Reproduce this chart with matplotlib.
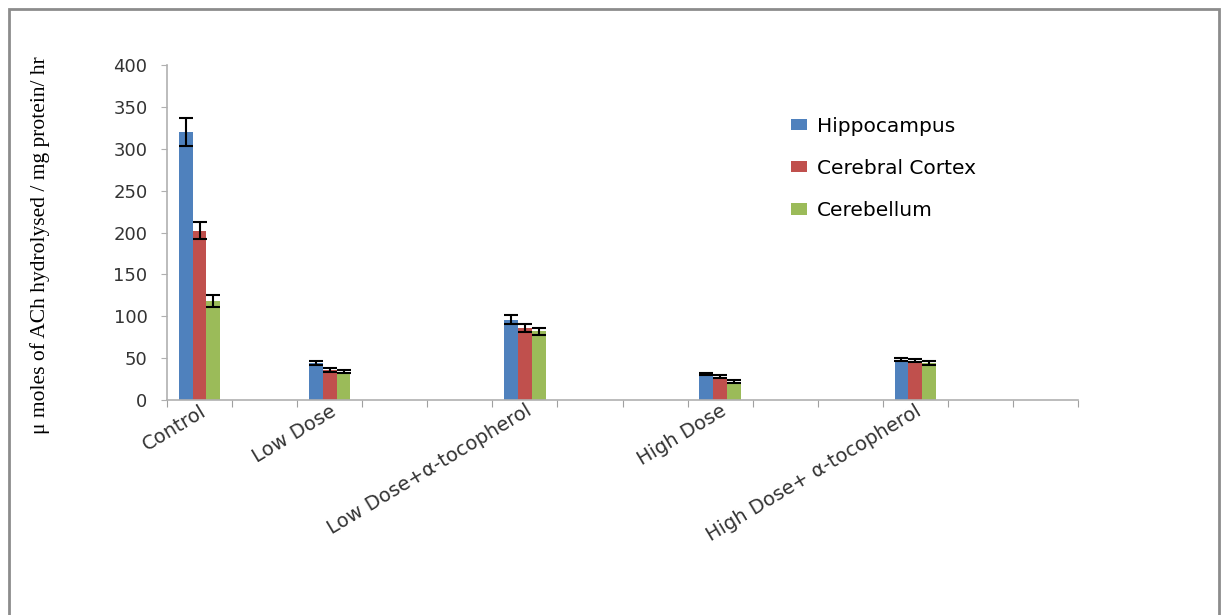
import matplotlib.pyplot as plt
import numpy as np
from matplotlib.patches import Rectangle

# groups placed on a 14-slot category axis, empty slots left blank
slot_count = 14
group_slots = [0, 2, 5, 8, 11]
groups = ['Control', 'Low Dose', 'Low Dose+α-tocopherol', 'High Dose', 'High Dose+ α-tocopherol']

hippocampus = [320, 44, 96, 31, 48]
hippocampus_err = [17, 2, 5, 1.5, 2]
cortex = [202, 36, 86, 28, 47]
cortex_err = [10, 2, 5, 1.5, 2]
cerebellum = [118, 34, 82, 22, 44]
cerebellum_err = [7, 1.5, 4, 1.5, 2]

series = [('Hippocampus', hippocampus, hippocampus_err, '#4F81BD'),
          ('Cerebral Cortex', cortex, cortex_err, '#C0504D'),
          ('Cerebellum', cerebellum, cerebellum_err, '#9BBB59')]

fig = plt.figure(figsize=(12.21, 6.15), dpi=100)
fig.patches.append(Rectangle((9 / 1221, -0.05), (1219 - 9) / 1221, 1 - 9 / 615 + 0.05,
                             transform=fig.transFigure, fill=False,
                             edgecolor='#8c8c8c', linewidth=2))
ax = fig.add_axes([167 / 1221, 1 - 400 / 615, (1078 - 167) / 1221, (400 - 65) / 615])

bw = 0.213
x = np.array(group_slots, dtype=float)
for i, (name, vals, errs, col) in enumerate(series):
    ax.bar(x + (i - 1) * bw, vals, bw, color=col, label=name,
           yerr=errs, capsize=4.7, error_kw=dict(ecolor='black', elinewidth=1.5, capthick=1.5))

ax.set_xlim(-0.5, slot_count - 0.5)
ax.set_ylim(0, 400)
ax.set_yticks(np.arange(0, 401, 50))
ax.tick_params(axis='y', length=4, color='#b0b0b0', labelsize=13, pad=10, labelcolor='#333333')

# category boundary ticks on the x axis
ax.set_xticks(np.arange(-0.5, slot_count, 1.0))
ax.set_xticklabels([])
ax.tick_params(axis='x', which='major', length=5, color='#a0a0a0', direction='out')
ax.set_xticks(x, minor=True)
ax.set_xticklabels(groups, minor=True, rotation=31, ha='right', rotation_mode='anchor',
                   fontsize=14, color='#333333')
ax.tick_params(axis='x', which='minor', length=0, pad=1)

for s in ['top', 'right']:
    ax.spines[s].set_visible(False)
for s in ['left', 'bottom']:
    ax.spines[s].set_color('#b0b0b0')
    ax.spines[s].set_linewidth(1.2)

ax.set_ylabel('μ moles of ACh hydrolysed / mg protein/ hr', family='Liberation Serif',
              fontsize=15.5)
ax.yaxis.set_label_coords(-0.128, 0.463)

ax.legend(loc='upper left', bbox_to_anchor=(0.665, 0.9), frameon=False, fontsize=14.5,
          handlelength=0.8, handleheight=0.5, labelspacing=1.15, handletextpad=0.5)

fig.savefig('out.png', dpi=100)
